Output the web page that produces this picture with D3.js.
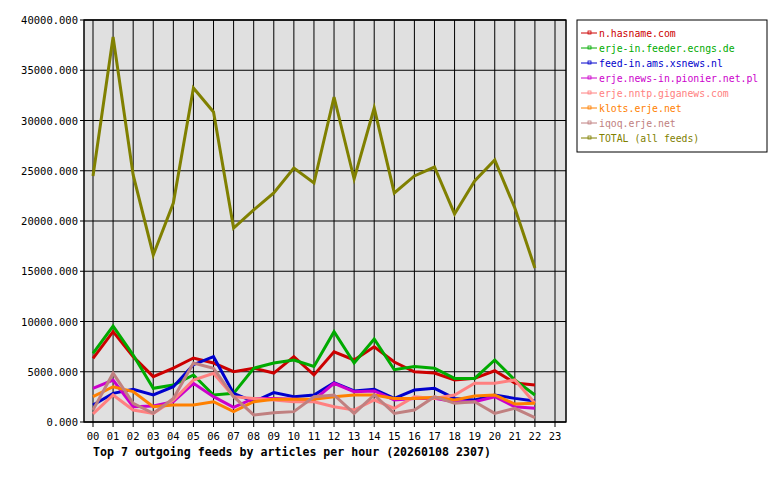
<!DOCTYPE html>
<html><head><meta charset="utf-8">
<script src="https://cdn.jsdelivr.net/npm/d3@7"></script>
<style>body{margin:0;background:#fff}text{font-family:"DejaVu Sans Mono",monospace}</style>
</head><body><svg id="c" width="780" height="480"></svg>
<script>
const hours = d3.range(24).map(h => String(h).padStart(2, "0"));
const feeds = ["n.hasname.com","erje-in.feeder.ecngs.de","feed-in.ams.xsnews.nl","erje.news-in.pionier.net.pl","erje.nntp.giganews.com","klots.erje.net","iqoq.erje.net","TOTAL (all feeds)"];
const colors = ["#cc0000","#00aa00","#0000cc","#cc00cc","#ff8080","#ff8000","#c08080","#808000"];
const hasname = [6340,8990,6500,4510,5370,6370,5870,5000,5350,4870,6500,4680,6990,6170,7490,5970,5000,4870,4180,4340,5100,3880,3680];
const ecngs = [6830,9550,6670,3350,3680,4680,2690,2850,5350,5870,6170,5520,8990,5870,8260,5200,5520,5350,4340,4340,6170,4180,2690];
const xsnews = [1690,2850,3250,2690,3510,5700,6500,2850,2020,2920,2520,2690,3910,3090,3250,2350,3180,3350,2350,2190,2690,2350,2090];
const pionier = [3350,4180,1520,1590,2020,3850,2520,1460,2350,2350,2260,2190,3850,3020,3090,2190,2350,2350,2020,2020,2520,1520,1360];
const giganews = [800,2690,1190,860,2190,4180,4850,2520,2350,2190,2020,2020,1520,1190,2190,1360,2520,2350,2690,3850,3850,4180,1860];
const klots = [2520,3510,3020,1520,1690,1690,2020,1030,2020,2260,2260,2260,2520,2690,2690,2350,2350,2450,2190,2590,2690,1790,1860];
const iqoq = [1190,4850,1860,860,2350,5870,5350,2520,700,930,1030,2520,2690,860,2690,860,1190,2520,1860,2020,860,1360,430];
const total = [24480,38300,24580,16620,21790,33230,30850,19300,21100,22790,25270,23780,32340,24180,31240,22790,24480,25370,20700,23980,26070,21290,15320];
const series = [hasname,ecngs,xsnews,pionier,giganews,klots,iqoq,total];
const yTicks = [0,5000,10000,15000,20000,25000,30000,35000,40000];
const title = "Top 7 outgoing feeds by articles per hour (20260108 2307)";

const svg = d3.select("#c");
const L = 84, R = 566, T = 20, B = 422;
const x = d3.scalePoint().domain(hours).range([93, 555]);
const y = d3.scaleLinear().domain([0, 40000]).range([B, T]);

svg.append("rect").attr("x", L).attr("y", T).attr("width", R - L).attr("height", B - T)
  .attr("fill", "#e0e0e0").attr("stroke", "#000");

const g = svg.append("g");
g.selectAll(".vg").data(hours).enter().append("line")
  .attr("x1", d => x(d)).attr("x2", d => x(d)).attr("y1", T).attr("y2", B + 5)
  .attr("stroke", "#000");
g.selectAll(".hg").data(yTicks).enter().append("line")
  .attr("x1", L - 4).attr("x2", R).attr("y1", d => y(d)).attr("y2", d => y(d))
  .attr("stroke", "#000");

svg.selectAll(".xl").data(hours).enter().append("text")
  .attr("x", d => x(d)).attr("y", B + 18).attr("text-anchor", "middle")
  .attr("font-size", 10.5).text(d => d);
svg.selectAll(".yl").data(yTicks).enter().append("text")
  .attr("x", L - 6).attr("y", d => y(d) + 4).attr("text-anchor", "end")
  .attr("font-size", 10.5).text(d => d + ".000");

const line = d3.line().x((d, i) => x(hours[i])).y(d => y(d));
series.forEach((s, k) => {
  svg.append("path").attr("d", line(s)).attr("fill", "none")
    .attr("stroke", colors[k]).attr("stroke-width", 3).attr("stroke-linejoin", "miter");
});

svg.append("rect").attr("x", L).attr("y", T).attr("width", R - L).attr("height", B - T)
  .attr("fill", "none").attr("stroke", "#000");

// legend
svg.append("rect").attr("x", 577).attr("y", 20).attr("width", 190).attr("height", 132)
  .attr("fill", "#fff").attr("stroke", "#000");
const lg = svg.selectAll(".lg").data(feeds).enter().append("g")
  .attr("transform", (d, i) => `translate(581,${33 + i * 15})`);
lg.append("line").attr("x1", 0).attr("x2", 16).attr("y1", 0).attr("y2", 0)
  .attr("stroke", (d, i) => colors[i]);
lg.append("rect").attr("x", 7).attr("y", -2).attr("width", 3).attr("height", 3)
  .attr("fill", "none").attr("stroke", (d, i) => colors[i]).attr("stroke-width", 0.8);
lg.append("text").attr("x", 18).attr("y", 4).attr("font-size", 9.8)
  .attr("fill", (d, i) => colors[i]).text(d => d);

svg.append("text").attr("x", 93).attr("y", 456).attr("font-size", 11.6)
  .attr("font-weight", "bold").text(title);
</script></body></html>
